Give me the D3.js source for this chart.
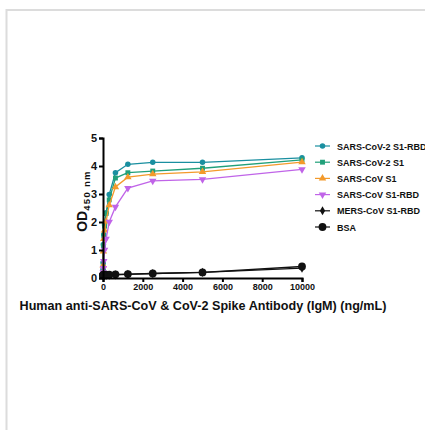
<!DOCTYPE html>
<html><head><meta charset="utf-8">
<script src="https://cdn.jsdelivr.net/npm/d3@7"></script>
<style>body{margin:0;background:#fff;}svg{display:block;font-family:Arial,"Liberation Sans",sans-serif;}</style>
</head><body>
<script>
const concentrations = [10000, 5000, 2500, 1250, 625, 312.5, 156.25, 78.13, 39.06, 19.53, 9.77, 4.88, 2.44];
const seriesNames = ["SARS-CoV-2 S1-RBD", "SARS-CoV-2 S1", "SARS-CoV S1", "SARS-CoV S1-RBD", "MERS-CoV S1-RBD", "BSA"];
const seriesColors = ["#1a8fa0", "#21a07a", "#f39a2b", "#c064e8", "#111111", "#111111"];
const seriesSymbols = ["circle", "square", "triangle", "triangleDown", "diamond", "bigCircle"];
const valsRBD2 = [4.29, 4.13, 4.13, 4.06, 3.76, 2.98, 2.33, 1.9, 1.55, 1.2, 0.55, 0.3, 0.15];
const valsS1_2 = [4.22, 3.92, 3.82, 3.76, 3.57, 2.79, 2.3, 1.85, 1.5, 1.15, 0.5, 0.25, 0.12];
const valsS1 = [4.14, 3.79, 3.71, 3.6, 3.25, 2.6, 2.02, 1.7, 1.4, 0.95, 0.45, 0.22, 0.12];
const valsRBD1 = [3.88, 3.52, 3.47, 3.21, 2.54, 2.0, 1.4, 1.0, 0.6, 0.35, 0.2, 0.12, 0.08];
const valsMERS = [0.35, 0.2, 0.16, 0.13, 0.11, 0.1, 0.09, 0.09, 0.08, 0.08, 0.08, 0.08, 0.08];
const valsBSA = [0.41, 0.2, 0.16, 0.14, 0.13, 0.12, 0.12, 0.11, 0.11, 0.1, 0.1, 0.1, 0.1];
const seriesValues = [valsRBD2, valsS1_2, valsS1, valsRBD1, valsMERS, valsBSA];
const xTicks = [0, 2000, 4000, 6000, 8000, 10000];
const yTicks = [0, 1, 2, 3, 4, 5];

const W = 425, H = 430;
const svg = d3.select("body").append("svg").attr("width", W).attr("height", H);

// frame
svg.append("path").attr("d", `M6.5,${H} V10 H${W}`).attr("fill","none").attr("stroke","#dcdcdc").attr("stroke-width",2);

const x = d3.scaleLinear().domain([0, 10000]).range([103, 302]);
const y = d3.scaleLinear().domain([0, 5]).range([278, 138]);

const symMap = {
  circle: d3.symbol().type(d3.symbolCircle).size(24),
  square: d3.symbol().type(d3.symbolSquare).size(24),
  triangle: d3.symbol().type(d3.symbolTriangle).size(24),
  triangleDown: d3.symbol().type(d3.symbolTriangle).size(24),
  diamond: d3.symbol().type(d3.symbolDiamond).size(24),
  bigCircle: d3.symbol().type(d3.symbolCircle).size(48)
};

const line = d3.line().x(d => x(d[0])).y(d => y(d[1]));
seriesNames.forEach((name, i) => {
  const pts = concentrations.map((c, j) => [c, seriesValues[i][j]]);
  const g = svg.append("g");
  g.append("path").datum(pts).attr("d", line).attr("fill","none").attr("stroke", seriesColors[i]).attr("stroke-width", 1.3);
  g.selectAll("path.m").data(pts).join("path").attr("class","m")
    .attr("d", symMap[seriesSymbols[i]])
    .attr("transform", d => `translate(${x(d[0])},${y(d[1])})` + (seriesSymbols[i]==="triangleDown" ? " rotate(180)" : ""))
    .attr("fill", seriesColors[i]);
});

// axes
const xAxis = svg.append("g").attr("transform", "translate(0,278)")
  .call(d3.axisBottom(x).tickValues(xTicks).tickSize(4).tickPadding(2).tickFormat(d3.format("d")));
const yAxis = svg.append("g").attr("transform", "translate(103,0)")
  .call(d3.axisLeft(y).tickValues(yTicks).tickSize(4).tickPadding(2).tickFormat(d3.format("d")));
[xAxis, yAxis].forEach(a => {
  a.select(".domain").attr("stroke","#000").attr("stroke-width",2);
  a.selectAll(".tick line").attr("stroke","#000").attr("stroke-width",2);
  a.selectAll("text").attr("fill","#111").attr("font-weight","bold").attr("font-family","Arial, 'Liberation Sans', sans-serif");
});
xAxis.selectAll("text").attr("font-size", 9);
yAxis.selectAll("text").attr("font-size", 11);

// axis titles
svg.append("text").attr("x", 203).attr("y", 310).attr("text-anchor","middle")
  .attr("font-size", 12.6).attr("font-weight","bold").attr("fill","#111")
  .text("Human anti-SARS-CoV & CoV-2 Spike Antibody (IgM) (ng/mL)");
const yl = svg.append("text").attr("transform","translate(87,201) rotate(-90)").attr("text-anchor","middle")
  .attr("font-weight","bold").attr("fill","#111");
yl.append("tspan").attr("font-size", 14).text("OD");
yl.append("tspan").attr("font-size", 9.5).attr("dy", 3).attr("letter-spacing", 1.3).text("450 nm");

// legend
const lg = svg.append("g");
seriesNames.forEach((name, i) => {
  const ly = 146 + i * 16.2;
  lg.append("line").attr("x1", 315).attr("x2", 330).attr("y1", ly).attr("y2", ly).attr("stroke", seriesColors[i]).attr("stroke-width", 1.2);
  lg.append("path").attr("d", symMap[seriesSymbols[i]])
    .attr("transform", `translate(322.5,${ly})` + (seriesSymbols[i]==="triangleDown" ? " rotate(180)" : ""))
    .attr("fill", seriesColors[i]);
  lg.append("text").attr("x", 337).attr("y", ly + 3.5).attr("font-size", 9).attr("font-weight","bold").attr("fill","#111").text(name);
});
</script>
</body></html>
